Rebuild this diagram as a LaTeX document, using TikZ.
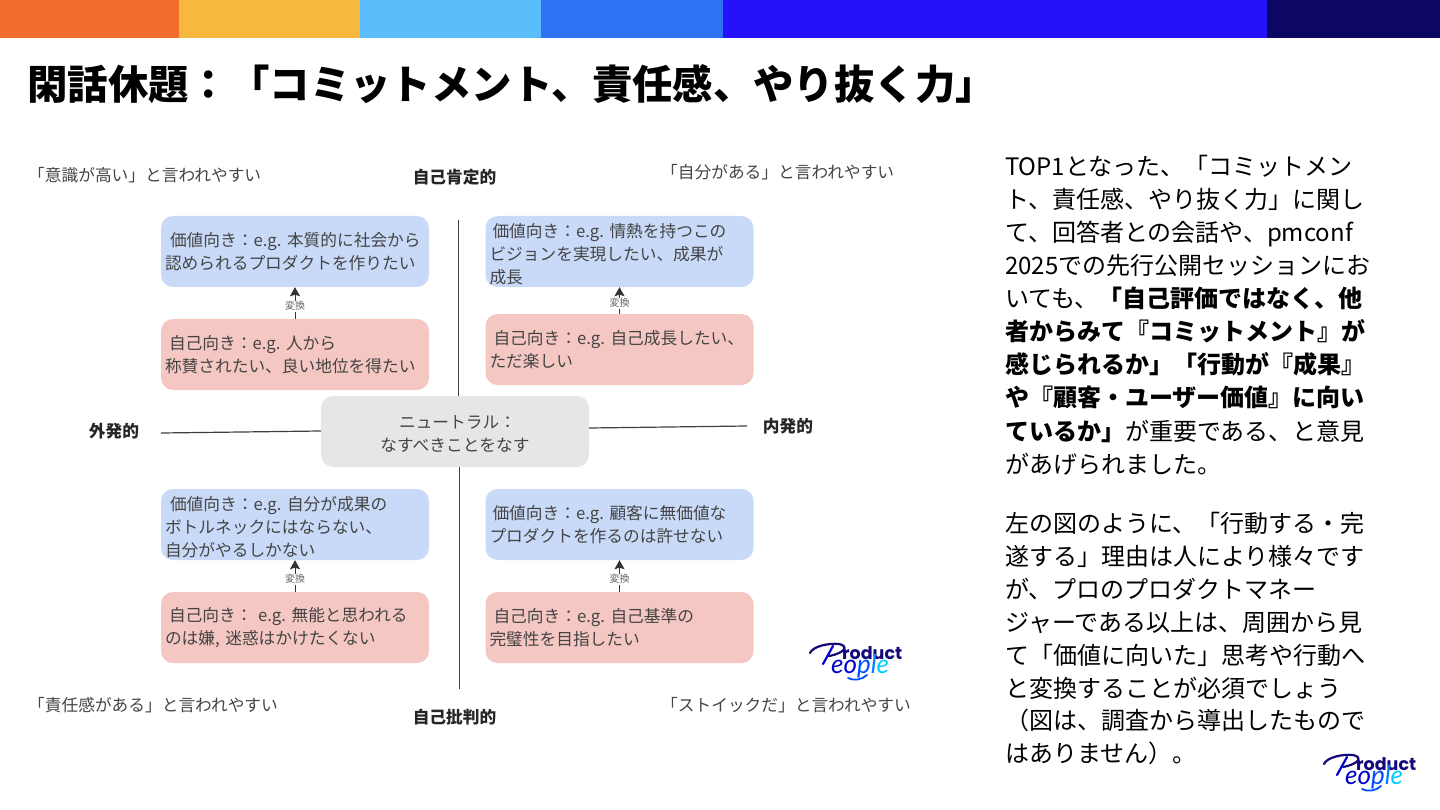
\documentclass[tikz,border=0pt]{standalone}
\usepackage{fontspec}
\setmainfont{Noto Sans CJK JP}
\newfontfamily\logofont{Poppins}
\newfontfamily\logoscript{Lato}
\usetikzlibrary{arrows.meta}
\definecolor{valueblue}{HTML}{C9DAF8}
\definecolor{selfred}{HTML}{F4C7C3}
\definecolor{neutralgray}{HTML}{E6E6E6}
\definecolor{figtext}{HTML}{444444}
\definecolor{logonavy}{HTML}{14087A}
\newcommand{\fs}[2]{\fontsize{#1}{#2}\selectfont\frenchspacing}
\tikzset{
  valuebox/.style={fill=valueblue,rounded corners=12pt,minimum width=268pt,minimum height=71pt,
    text width=260pt,inner xsep=4pt,inner ysep=0pt,align=left,text=figtext,font=\fs{16.7}{23}},
  selfbox/.style={valuebox,fill=selfred},
  axisline/.style={draw=black!75,line width=1.2pt},
  quadlabel/.style={font=\fs{16.7}{20},text=figtext,inner sep=0pt,anchor=west},
  axislabel/.style={font=\fs{16.7}{20}\bfseries,text=black!85,inner sep=0pt},
  changearrow/.style={draw=black!80,line width=1pt,-{Stealth[length=9pt,width=10pt,inset=1.5pt]}},
  changelabel/.style={font=\fs{10}{11},text=black!60,fill=white,inner xsep=0pt,inner ysep=1pt},
  logo/.pic={
    \draw[logonavy,line width=2.2pt,line cap=round] (1,9) .. controls (4,2) and (20,-1) .. (30,0)
      .. controls (40,2) and (36,9) .. (20,12);
    \draw[blue!80!black,line width=2.2pt,line cap=round] (24,2) -- (14,20);
    \node[logonavy,font=\logofont\fs{17.5}{18}\bfseries,inner sep=0pt,anchor=west] (-product) at (33,9) {roduct};
    \node[font=\logoscript\fs{26}{26}\itshape,inner sep=0pt,anchor=west] (-people) at (22,22)
      {\textcolor{blue!80!black}{e}\textcolor{blue!85!black}{o}\textcolor{blue!70!cyan}{p}\textcolor{blue!50!cyan}{l}\textcolor{blue!20!cyan}{e}};
    \draw[blue!70!cyan,line width=1.8pt,line cap=round] (39,34) .. controls (44,37) and (53,36) .. (58,31);
  }
}
\begin{document}
\begin{tikzpicture}[x=1pt,y=-1pt]
  \useasboundingbox (0,0) rectangle (1440,810);
  \foreach \xa/\xb/\col in {0/179/F26B2F,179/360/F7B840,360/541/5ABEFC,541/723/3072F5,723/1267/2612FA,1267/1440/0C0664}{
    \definecolor{stripe}{HTML}{\col}
    \fill[stripe] (\xa,0) rectangle (\xb,38.5);}
  \node[anchor=west,inner sep=0pt,font=\fs{40.4}{48}\bfseries] (title) at (27,84)
    {閑話休題：「コミットメント、責任感、やり抜く力」};

  % quadrant boxes
  \node[valuebox] (valueTL) at (295,251.5) {\hspace{5pt}価値向き：e.g. 本質的に社会から\\認められるプロダクトを作りたい};
  \node[selfbox] (selfTL) at (295,354.5) {\hspace{4pt}自己向き：e.g. 人から\\称賛されたい、良い地位を得たい};
  \node[valuebox] (valueTR) at (619.5,251.5) {\rule{0pt}{19pt}\hspace{3pt}価値向き：e.g. 情熱を持つこの\\ビジョンを実現したい、成果が\\成長};
  \node[selfbox] (selfTR) at (619.5,349.5) {\hspace{4pt}自己向き：e.g. 自己成長したい、\\ただ楽しい};
  \node[valuebox] (valueBL) at (295,524.5) {\rule{0pt}{19pt}\hspace{5pt}価値向き：e.g. 自分が成果の\\ボトルネックにはならない、\\自分がやるしかない};
  \node[selfbox] (selfBL) at (295,627.5) {\hspace{4pt}自己向き： e.g. 無能と思われる\\のは嫌, 迷惑はかけたくない};
  \node[valuebox] (valueBR) at (619.5,524.5) {\hspace{3pt}価値向き：e.g. 顧客に無価値な\\プロダクトを作るのは許せない};
  \node[selfbox] (selfBR) at (619.5,627.5) {\hspace{4pt}自己向き：e.g. 自己基準の\\完璧性を目指したい};
  \node[fill=neutralgray,rounded corners=12pt,minimum width=268pt,minimum height=71pt,align=center,
    text=figtext,font=\fs{16.7}{23}] (neutral) at (455,431.5) {\rule{0pt}{17pt}\hspace{5pt}ニュートラル：\\なすべきことをなす};

  % axes
  \coordinate (axisN) at (458.5,220);
  \coordinate (axisS) at (459.5,689);
  \coordinate (axisW) at (161,433);
  \coordinate (axisE) at (747,426);
  \draw[axisline] (axisN) -- (axisN |- neutral.north);
  \draw[axisline] (axisS) -- (axisS |- neutral.south);
  \draw[axisline] (axisW) -- (neutral.west |- 0,431);
  \draw[axisline] (axisE) -- (neutral.east |- 0,428);

  \node[axislabel] (top) at (454.5,177) {自己肯定的};
  \node[axislabel] (bottom) at (454.5,717) {自己批判的};
  \node[axislabel] (left) at (114,431) {外発的};
  \node[axislabel] (right) at (788,426) {内発的};

  \node[quadlabel] (quadTL) at (28,175) {「意識が高い」と言われやすい};
  \node[quadlabel] (quadTR) at (661,172) {「自分がある」と言われやすい};
  \node[quadlabel] (quadBL) at (28,705) {「責任感がある」と言われやすい};
  \node[quadlabel] (quadBR) at (661,705) {「ストイックだ」と言われやすい};

  \foreach \q in {TL,TR,BL,BR}{
    \draw[changearrow] (self\q) -- (value\q) node[changelabel,pos=.4] (change\q) {変換};}

  % right column
  \node[anchor=north west,inner sep=0pt,align=left,font=\fs{24}{33.1}] (para1) at (1005,154.7)
    {TOP1となった、「コミットメン\\ト、責任感、やり抜く力」に関し\\て、回答者との会話や、pmconf\\2025での先行公開セッションにお\\いても、\textbf{「自己評価ではなく、他}\\\textbf{者からみて『コミットメント』が}\\\textbf{感じられるか」「行動が『成果』}\\\textbf{や『顧客・ユーザー価値』に向い}\\\textbf{ているか」}が重要である、と意見\\があげられました。};
  \node[anchor=north west,inner sep=0pt,align=left,font=\fs{24}{32.9}] (para2) at (1005,512)
    {左の図のように、「行動する・完\\遂する」理由は人により様々です\\が、プロのプロダクトマネー\\ジャーである以上は、周囲から見\\て「価値に向いた」思考や行動へ\\と変換することが必須でしょう\\（図は、調査から導出したもので\\はありません）。};

  \pic (logoA) at (809,644) {logo};
  \pic (logoB) at (1323,755) {logo};
\end{tikzpicture}
\end{document}
